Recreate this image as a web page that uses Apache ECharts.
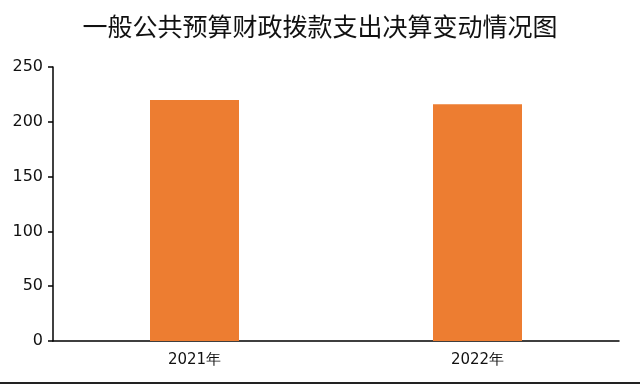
<!DOCTYPE html>
<html><head><meta charset="utf-8">
<script src="https://cdn.jsdelivr.net/npm/echarts@6/dist/echarts.min.js"></script>
<style>html,body{margin:0;padding:0;background:#fff}#c{width:640px;height:385px}</style>
</head><body><div id="c"></div>
<script>
const categories = ['2021年', '2022年'];
const values = [220, 216];
const yTicks = [0, 50, 100, 150, 200, 250];
const titleText = '一般公共预算财政拨款支出决算变动情况图';

const chart = echarts.init(document.getElementById('c'), null, {renderer: 'canvas'});
chart.setOption({
  animation: false,
  backgroundColor: '#fff',
  title: {
    text: titleText, left: 'center', top: 9,
    textStyle: {fontFamily: 'Noto Sans CJK SC', fontSize: 25, fontWeight: 'normal', color: '#111'}
  },
  grid: {left: 53, right: 21, top: 67, bottom: 44, containLabel: false},
  xAxis: {
    type: 'category', data: categories,
    axisLine: {lineStyle: {color: '#000', width: 1.5}},
    axisTick: {show: false},
    axisLabel: {fontFamily: 'DejaVu Sans', fontSize: 15, color: '#111', margin: 12}
  },
  yAxis: {
    type: 'value', min: yTicks[0], max: yTicks[yTicks.length - 1], interval: 50,
    axisLine: {show: true, lineStyle: {color: '#000', width: 1.5}},
    axisTick: {show: true, length: 5, lineStyle: {color: '#000', width: 1.5}},
    splitLine: {show: false},
    axisLabel: {fontFamily: 'DejaVu Sans', fontSize: 16, color: '#111', margin: 10}
  },
  series: [{
    type: 'bar', data: values, barWidth: 89,
    itemStyle: {color: '#ED7D31'}
  }],
  graphic: [{
    type: 'rect', shape: {x: 0, y: 382, width: 640, height: 2},
    style: {fill: '#222'}
  }]
});
</script></body></html>
